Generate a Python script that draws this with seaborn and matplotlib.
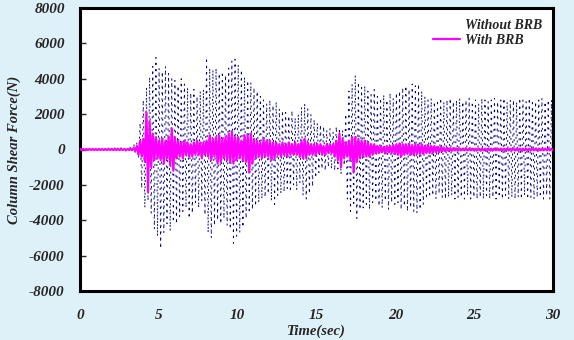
import numpy as np
import pandas as pd
import matplotlib
matplotlib.use("Agg")
import matplotlib.pyplot as plt
from matplotlib.lines import Line2D
import seaborn as sns

# Peak values (N), one per 0.1 s (rows = 1 s each)
without_brb = [
    40, -40, 50, -50, 40, -40, 60, -60, 50, -50,
    60, -60, 50, -50, 70, -70, 60, -60, 80, -80,
    70, -70, 90, -90, 80, -80, 100, -100, 90, -90,
    150, -120, 200, -180, 300, -250, 400, -500, 1500, -2200,
    2800, -3300, 3500, -2900, 4100, -3600, 4700, -4500, 5200, -4900,
    4600, -5600, 4400, -4700, 4700, -4200, 4300, -4600, 4000, -4100,
    3900, -4200, 3600, -3800, 4000, -3500, 3700, -3300, 3500, -3900,
    3200, -3600, 3400, -3000, 3000, -3300, 3300, -2900, 3400, -3700,
    5200, -4700, 4600, -5000, 4500, -4300, 4600, -4000, 4300, -4200,
    4400, -3900, 4200, -4300, 4600, -4500, 5000, -5300, 5100, -4900,
    4800, -4700, 4500, -4400, 4100, -3900, 3900, -3600, 3800, -3400,
    3500, -3200, 3300, -3000, 3000, -2800, 2800, -2700, 2600, -2500,
    2800, -2900, 2500, -3100, 2700, -2600, 2300, -2500, 2200, -2400,
    2100, -2200, 1900, -2400, 2200, -2000, 1800, -2300, 2000, -1900,
    2400, -2600, 2600, -2800, 2300, -2500, 2000, -2100, 1700, -1600,
    1500, -1300, 1400, -1100, 1300, -1200, 1100, -1000, 1200, -1100,
    1000, -1200, 1300, -1100, 1200, -1400, 1100, -900, 2000, -2800,
    3300, -3500, 3700, -3200, 4200, -3900, 3800, -3400, 3500, -3300,
    3600, -3100, 3300, -3400, 3100, -3000, 3400, -2900, 3000, -3200,
    2900, -3300, 3100, -2900, 2800, -3400, 3200, -3000, 2900, -3100,
    3200, -3000, 3300, -3400, 3500, -3200, 3600, -3500, 3400, -3300,
    3700, -3500, 3600, -3600, 3700, -3400, 3300, -3100, 3000, -2800,
    2800, -2700, 2900, -2600, 2700, -2800, 2800, -2500, 2900, -2700,
    2700, -2800, 2800, -2700, 2900, -2600, 2700, -2800, 2800, -2700,
    2900, -2700, 2700, -2800, 2800, -2600, 2900, -2800, 2700, -2700,
    2800, -2800, 2600, -2700, 2900, -2800, 2800, -2600, 2700, -2800,
    2800, -2700, 2900, -2800, 2700, -2700, 2800, -2800, 2900, -2600,
    2700, -2800, 2800, -2700, 2800, -2800, 2700, -2700, 2900, -2800,
    2800, -2600, 2700, -2800, 2900, -2700, 2800, -2800, 2700, -2700,
    2800, -2700, 2900, -2800, 2700, -2600, 2800, -2800, 2800, -2700,
]

with_brb = [
    30, -30, 30, -30, 30, -30, 30, -30, 30, -30,
    30, -30, 30, -30, 30, -30, 30, -30, 30, -30,
    30, -30, 30, -30, 30, -30, 30, -30, 30, -30,
    30, -30, 40, -40, 100, -80, 200, -300, 500, -400,
    600, -700, 2100, -2400, 1600, -1000, 900, -600, 700, -500,
    500, -600, 600, -800, 500, -500, 700, -900, 1200, -1200,
    700, -500, 500, -400, 400, -500, 500, -300, 400, -400,
    300, -400, 400, -300, 500, -300, 400, -500, 400, -300,
    500, -400, 800, -600, 600, -400, 700, -800, 800, -700,
    600, -500, 700, -600, 900, -700, 1000, -800, 700, -600,
    700, -500, 500, -600, 800, -700, 800, -1300, 900, -800,
    600, -500, 500, -400, 400, -500, 600, -400, 500, -400,
    500, -600, 400, -500, 400, -300, 300, -400, 400, -300,
    300, -400, 400, -300, 300, -300, 400, -300, 300, -400,
    500, -500, 600, -500, 400, -300, 300, -300, 300, -300,
    300, -200, 300, -300, 200, -300, 300, -200, 300, -200,
    300, -400, 500, -600, 900, -1000, 600, -500, 400, -400,
    500, -600, 700, -1300, 700, -700, 600, -500, 500, -400,
    500, -400, 400, -400, 300, -300, 300, -200, 200, -200,
    200, -150, 150, -200, 200, -150, 200, -200, 250, -250,
    300, -300, 350, -400, 300, -300, 300, -250, 300, -300,
    250, -300, 300, -250, 250, -250, 300, -250, 200, -200,
    250, -200, 200, -200, 200, -150, 150, -150, 150, -100,
    100, -100, 100, -80, 80, -80, 80, -60, 60, -60,
    50, -50, 50, -50, 50, -50, 50, -50, 50, -50,
    50, -50, 50, -50, 50, -50, 50, -50, 50, -50,
    50, -50, 50, -50, 50, -50, 50, -50, 50, -50,
    50, -50, 50, -50, 50, -50, 50, -50, 50, -50,
    50, -50, 50, -50, 50, -50, 50, -50, 50, -50,
    50, -50, 50, -50, 50, -50, 50, -50, 50, -50,
]

series_names = ["Without BRB", "With BRB"]
x_ticks = [0, 5, 10, 15, 20, 25, 30]
y_ticks = [-8000, -6000, -4000, -2000, 0, 2000, 4000, 6000, 8000]

time = np.linspace(0, 30, len(without_brb))
df1 = pd.DataFrame({"t": time, "v": without_brb})
df2 = pd.DataFrame({"t": np.linspace(0, 30, len(with_brb)), "v": with_brb})

sns.set_style("white")
plt.rcParams["font.family"] = ["Liberation Serif", "DejaVu Serif"]

bg = "#DFF1F8"
fig = plt.figure(figsize=(5.74, 3.40), dpi=100, facecolor=bg)
ax = fig.add_axes([80 / 574, 1 - 291 / 340, 473 / 574, 283 / 340])
ax.set_facecolor("white")

sns.lineplot(data=df1, x="t", y="v", ax=ax, color="#000080", lw=0.7,
             linestyle=(0, (2.0, 4.5)), estimator=None, sort=False, zorder=2)
sns.lineplot(data=df2, x="t", y="v", ax=ax, color="#FF00FF", lw=1.6,
             estimator=None, sort=False, zorder=3)

ax.set_xlim(0, 30)
ax.set_ylim(-8000, 8000)
ax.set_xticks(x_ticks)
ax.set_yticks(y_ticks)
ax.set_xticklabels([str(v) for v in x_ticks])
ax.set_yticklabels([str(v) for v in y_ticks])

fk = dict(fontweight="bold", fontstyle="italic")
for lab in ax.get_xticklabels() + ax.get_yticklabels():
    lab.set_fontsize(11)
    lab.set_fontweight("bold")
    lab.set_fontstyle("italic")

ax.tick_params(axis="y", direction="in", length=4, width=1, pad=11, left=True)
ax.tick_params(axis="x", length=0, pad=13, bottom=False)

for s in ax.spines.values():
    s.set_linewidth(2.2)
    s.set_color("black")

ax.set_xlabel("Time(sec)", fontsize=10.5, labelpad=1.5, **fk)
ax.set_ylabel("Column Shear Force(N)", fontsize=10.5, labelpad=6, **fk)

handles = [Line2D([], [], linestyle="none", color="#000080"),
           Line2D([], [], color="#FF00FF", lw=1.6)]
leg = ax.legend(handles, series_names, loc="upper right", frameon=False,
                prop=dict(family=["Liberation Serif"], weight="bold", style="italic", size=10),
                handlelength=2.0, handletextpad=0.3, labelspacing=0.15,
                borderaxespad=0.4)

fig.savefig("out.png", dpi=100, facecolor=bg)
